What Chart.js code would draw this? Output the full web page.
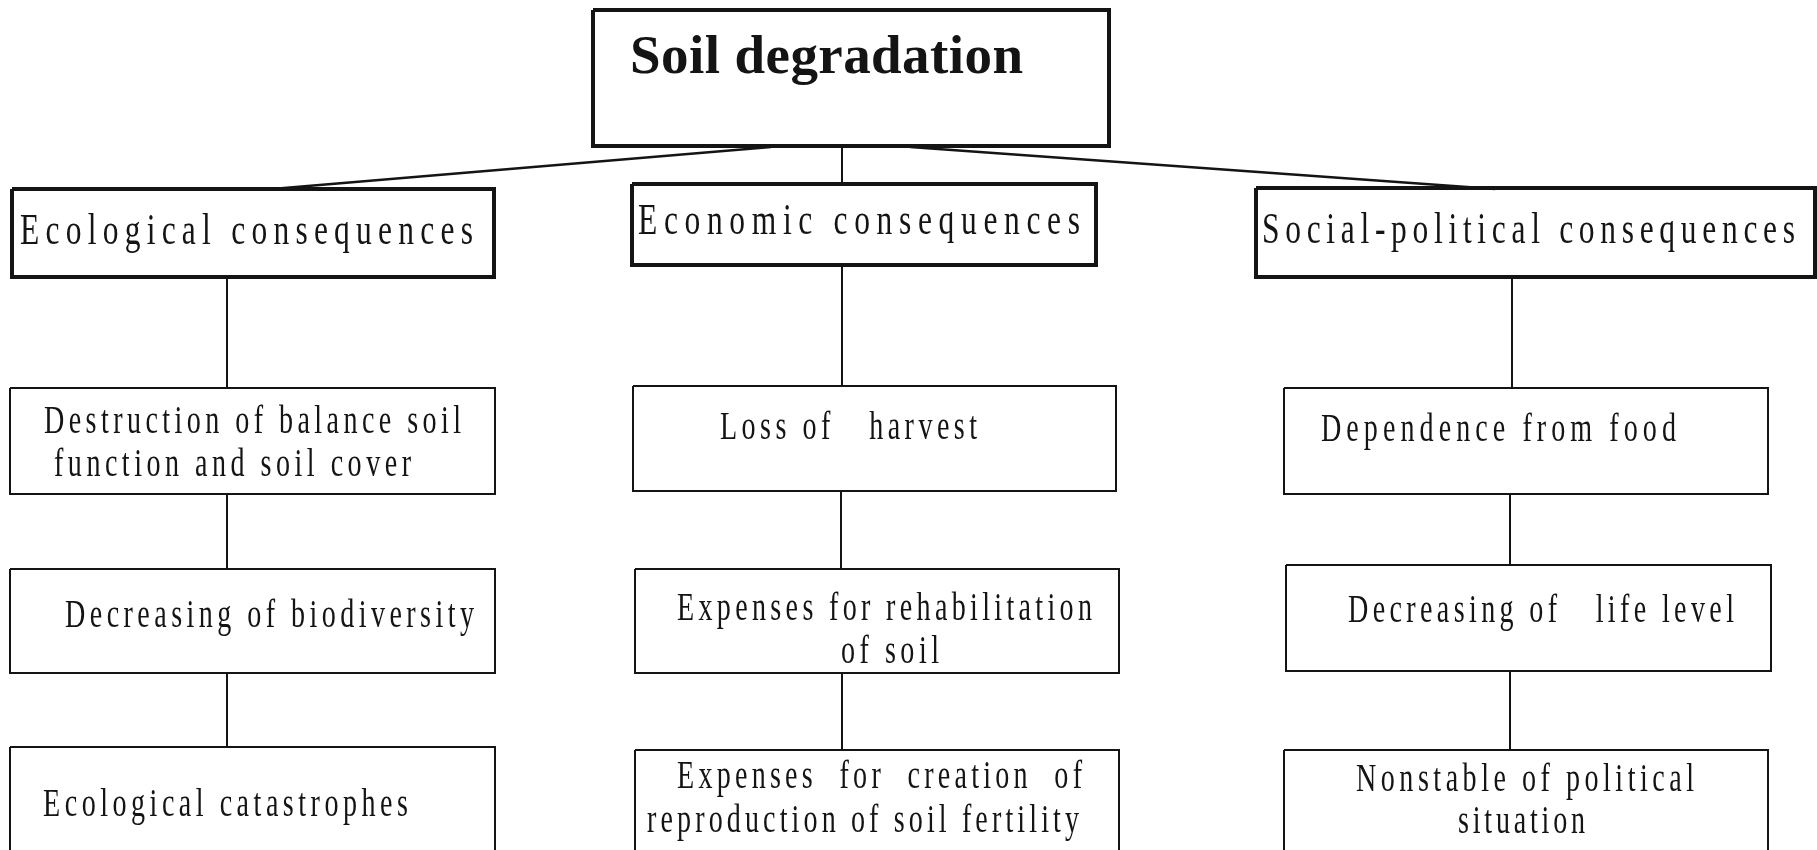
<!DOCTYPE html>
<html>
<head>
<meta charset="utf-8">
<script src="https://cdn.jsdelivr.net/npm/chart.js@4"></script>
<style>
html,body{margin:0;padding:0;background:#fff;}
#wrap{width:1817px;height:850px;}
</style>
</head>
<body>
<div id="wrap"><canvas id="c" width="1817" height="850"></canvas></div>
<script>
// ---- content (text) ----
const rootLabel = ['Soil degradation'];
const categories = ['Ecological consequences', 'Economic consequences', 'Social-political consequences'];
const ecological = [['Destruction of balance soil', 'function and soil cover'], ['Decreasing of biodiversity'], ['Ecological catastrophes']];
const economic = [['Loss of   harvest'], ['Expenses for rehabilitation', 'of soil'], ['Expenses  for  creation  of', 'reproduction of soil fertility']];
const social = [['Dependence from food'], ['Decreasing of   life level'], ['Nonstable of political', 'situation']];

// ---- layout (positions in diagram units) ----
const rootBox = [593, 10, 1109, 146];
const catBoxes = [[12, 189, 494, 277], [632, 184, 1096, 265], [1256, 188, 1815, 277]];
const childBoxes = [
  [[10, 388, 495, 494], [10, 569, 495, 673], [10, 747, 495, 860]],
  [[633, 386, 1116, 491], [635, 569, 1119, 673], [635, 750, 1119, 860]],
  [[1284, 388, 1768, 494], [1286, 565, 1771, 671], [1284, 750, 1768, 860]]
];
const connectors = [
  [[771, 147], [272, 189]],
  [[910, 147], [1495, 189]],
  [[842, 147], [842, 184]],
  [[227, 277], [227, 388]], [[227, 494], [227, 569]], [[227, 673], [227, 747]],
  [[842, 265], [842, 386]], [[841, 491], [841, 569]], [[842, 673], [842, 750]],
  [[1512, 277], [1512, 388]], [[1510, 494], [1510, 565]], [[1510, 671], [1510, 750]]
];
// text placement: [left, right, baseline] per line
const rootText = [[630, 1023, 73]];
const catText = [[[20, 473, 244]], [[638, 1080, 234]], [[1262, 1795, 243]]];
const childText = [
  [[[44, 461, 433], [54, 411, 476]], [[65, 474, 627]], [[43, 408, 816]]],
  [[[720, 977, 439]], [[677, 1092, 620], [841, 939, 663]], [[677, 1082, 788], [647, 1079, 832]]],
  [[[1321, 1676, 441]], [[1348, 1734, 622]], [[1356, 1694, 791], [1458, 1585, 833]]]
];
const ink = '#141414';

function boxData(b) {
  return [{x: b[0], y: b[1]}, {x: b[2], y: b[1]}, {x: b[2], y: b[3]}, {x: b[0], y: b[3]}, {x: b[0], y: b[1]}];
}
const datasets = [];
connectors.forEach((c, i) => datasets.push({
  data: c.map(p => ({x: p[0], y: p[1]})), showLine: true, pointRadius: 0,
  borderColor: ink, borderWidth: i < 2 ? 2.5 : 2, fill: false
}));
datasets.push({data: boxData(rootBox), showLine: true, pointRadius: 0, borderColor: ink, borderWidth: 4, borderJoinStyle: 'miter'});
catBoxes.forEach(b => datasets.push({data: boxData(b), showLine: true, pointRadius: 0, borderColor: ink, borderWidth: 4, borderJoinStyle: 'miter'}));
childBoxes.forEach(col => col.forEach(b => datasets.push({data: boxData(b), showLine: true, pointRadius: 0, borderColor: ink, borderWidth: 2, borderJoinStyle: 'miter'})));

function drawFitted(ctx, text, left, right, baseline, size, bold, sx) {
  ctx.font = (bold ? 'bold ' : '') + size + 'px "Liberation Serif", "DejaVu Serif", serif';
  const chars = [...text];
  const widths = chars.map(ch => ctx.measureText(ch).width);
  const total = widths.reduce((a, b) => a + b, 0) * sx;
  const gap = chars.length > 1 ? (right - left - total) / (chars.length - 1) : 0;
  let x = left;
  chars.forEach((ch, i) => {
    ctx.save();
    ctx.translate(x, baseline);
    ctx.scale(sx, 1);
    ctx.fillText(ch, 0, 0);
    ctx.restore();
    x += widths[i] * sx + gap;
  });
}

const textPlugin = {
  id: 'diagramText',
  afterDatasetsDraw(chart) {
    const ctx = chart.ctx;
    const xs = chart.scales.x, ys = chart.scales.y;
    const px = v => xs.getPixelForValue(v), py = v => ys.getPixelForValue(v);
    ctx.save();
    ctx.fillStyle = ink;
    ctx.textBaseline = 'alphabetic';
    ctx.textAlign = 'left';
    rootLabel.forEach((t, i) => {
      const p = rootText[i];
      drawFitted(ctx, t, px(p[0]), px(p[1]), py(p[2]), 55, true, 1);
    });
    categories.forEach((t, i) => {
      const p = catText[i][0];
      drawFitted(ctx, t, px(p[0]), px(p[1]), py(p[2]), 45, false, 0.7);
    });
    [ecological, economic, social].forEach((col, ci) => {
      col.forEach((lines, ri) => {
        lines.forEach((t, li) => {
          const p = childText[ci][ri][li];
          drawFitted(ctx, t, px(p[0]), px(p[1]), py(p[2]), 39, false, 0.72);
        });
      });
    });
    ctx.restore();
  }
};

new Chart(document.getElementById('c'), {
  type: 'scatter',
  data: {datasets},
  options: {
    responsive: false,
    devicePixelRatio: 1,
    animation: false,
    layout: {padding: 0},
    plugins: {legend: {display: false}, tooltip: {enabled: false}, title: {display: false}},
    scales: {
      x: {type: 'linear', min: 0, max: 1817, display: false},
      y: {type: 'linear', min: 0, max: 850, reverse: true, display: false}
    },
    elements: {line: {tension: 0, borderCapStyle: 'butt'}}
  },
  plugins: [textPlugin]
});
</script>
</body>
</html>
